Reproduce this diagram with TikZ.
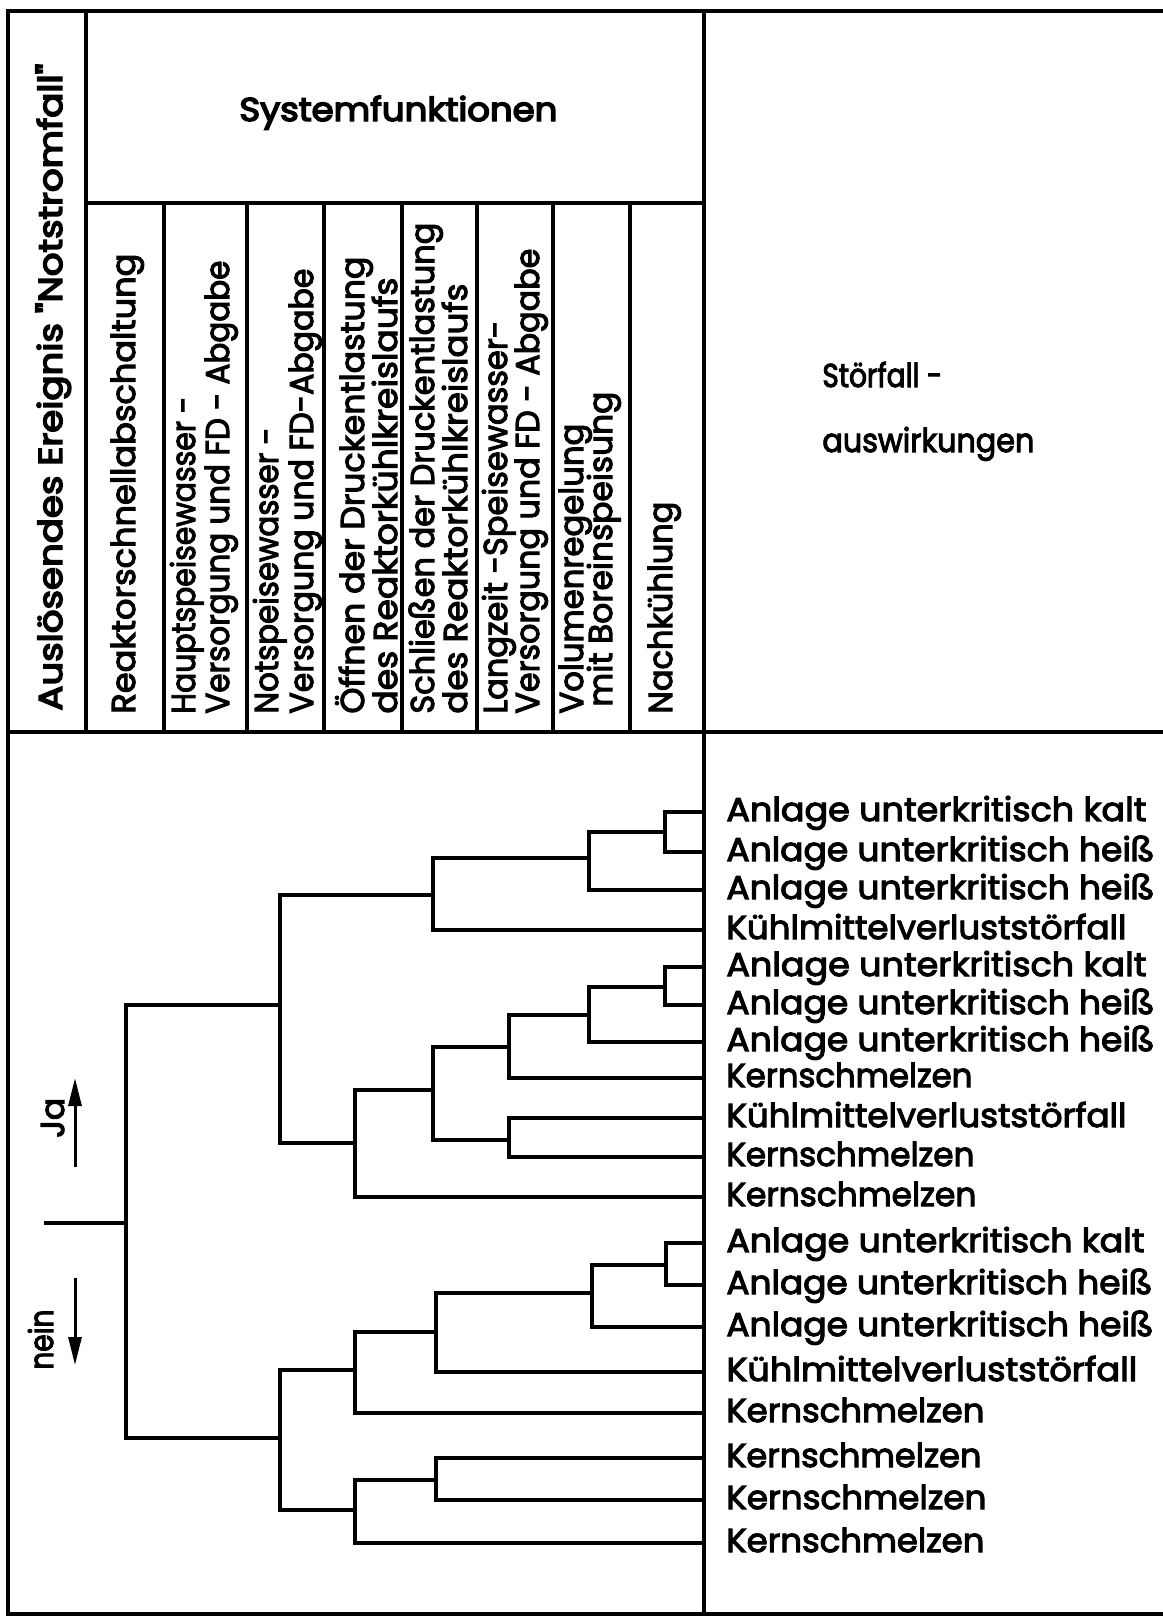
\documentclass[tikz,border=0pt]{standalone}
\usepackage{fontspec}
\usepackage{graphicx}
\setmainfont{Poppins}[FakeBold=3.2]
\newfontfamily\heavy{Poppins}[FakeBold=4.5]
\usetikzlibrary{arrows.meta}
\newcommand\labfont{\fontsize{16.5}{19}\selectfont}
% stretch or squeeze a text to a given width, keeping its height
\newcommand\fitw[2]{\resizebox{#1}{\height}{#2}}
\begin{document}
\begin{tikzpicture}[x=0.5pt,y=-0.5pt,
  frame/.style={line width=2.3pt, line cap=rect},
  grid/.style={line width=1.6pt},
  branch/.style={line width=2.2pt, line join=miter},
  arr/.style={line width=1.5pt, -{Triangle[length=14pt,width=6.5pt]}},
  leaflab/.style={anchor=base west, inner sep=0pt, font=\labfont},
  collab/.style={anchor=base west, inner sep=0pt, rotate=90, font=\labfont},
]
\useasboundingbox (0,0) rectangle (1162,1617);
\fill[white] (0,0) rectangle (1162,1617);

% ---- table frame ----
\draw[frame] (1162,11) -- (8,11) -- (8,1614) -- (1162,1614);
\draw[frame] (86,11) -- (86,732);
\draw[frame] (704,11) -- (704,1614);
\draw[frame] (8,732) -- (1162,732);
\draw[frame] (86,203) -- (704,203);
\foreach \cx in {164,247,324,402,477,553,630}
  \draw[grid] (\cx,203) -- (\cx,732);

% ---- headings ----
\node[collab, font=\labfont\heavy] (ev) at (62,711) {\fitw{323.5pt}{Auslösendes Ereignis "Notstromfall"}};
\node[anchor=base west, inner sep=0pt, font=\labfont\heavy] (sys) at (239,121) {\fitw{159pt}{Systemfunktionen}};

\node[collab] (c1)  at (135,714) {\fitw{230pt}{Reaktorschnellabschaltung}};
\node[collab] (c2a) at (195,714) {\fitw{158.5pt}{Hauptspeisewasser -}};
\node[collab] (c2b) at (229,714) {\fitw{226.5pt}{Versorgung und FD - Abgabe}};
\node[collab] (c3a) at (278,714) {\fitw{143pt}{Notspeisewasser -}};
\node[collab] (c3b) at (313,714) {\fitw{222.5pt}{Versorgung und FD-Abgabe}};
\node[collab] (c4a) at (364,714) {\fitw{228.5pt}{Öffnen der Druckentlastung}};
\node[collab] (c4b) at (397,714) {\fitw{218pt}{des Reaktorkühlkreislaufs}};
\node[collab] (c5a) at (434,714) {\fitw{245.5pt}{Schließen der Druckentlastung}};
\node[collab] (c5b) at (467,714) {\fitw{215pt}{des Reaktorkühlkreislaufs}};
\node[collab] (c6a) at (507,714) {\fitw{196.5pt}{Langzeit -Speisewasser-}};
\node[collab] (c6b) at (539,714) {\fitw{232.5pt}{Versorgung und FD - Abgabe}};
\node[collab] (c7a) at (583,714) {\fitw{145pt}{Volumenregelung}};
\node[collab] (c7b) at (612,707) {\fitw{157.5pt}{mit Boreinspeisung}};
\node[collab] (c8)  at (672,714) {\fitw{106pt}{Nachkühlung}};

\node[leaflab] (sa) at (822,387) {\fitw{60pt}{Störfall -}};
\node[leaflab] (sb) at (822,452) {\fitw{106pt}{auswirkungen}};

% ---- event tree ----
\coordinate (stub) at (44,1223);
\coordinate (R) at (126,1223);
\coordinate (A) at (280,1005);
\coordinate (A1) at (433,895);
\coordinate (A11) at (589,858);
\coordinate (A111) at (665,832);
\coordinate (A2) at (355,1143);
\coordinate (A21) at (433,1090);
\coordinate (A211) at (509,1047);
\coordinate (A2111) at (589,1015);
\coordinate (A21111) at (665,987);
\coordinate (A212) at (509,1140);
\coordinate (B) at (280,1438);
\coordinate (B1) at (355,1370);
\coordinate (B11) at (436,1332);
\coordinate (B111) at (592,1293);
\coordinate (B1111) at (666,1265);
\coordinate (B2) at (355,1510);
\coordinate (B21) at (436,1480);

\foreach \i/\y in {1/812,2/852,3/890,4/930,5/967,6/1005,7/1042,8/1078,9/1118,10/1157,
                   11/1197,12/1243,13/1285,14/1327,15/1372,16/1413,17/1458,18/1500,19/1543}
  \coordinate (L\i) at (704,\y);

\draw[branch] (stub) -- (R);
\draw[branch] (A) -| (R) |- (B);
\draw[branch] (A1) -| (A) |- (A2);
\draw[branch] (A11) -| (A1) |- (L4);
\draw[branch] (A111) -| (A11) |- (L3);
\draw[branch] (L1) -| (A111) |- (L2);
\draw[branch] (A21) -| (A2) |- (L11);
\draw[branch] (A211) -| (A21) |- (A212);
\draw[branch] (A2111) -| (A211) |- (L8);
\draw[branch] (A21111) -| (A2111) |- (L7);
\draw[branch] (L5) -| (A21111) |- (L6);
\draw[branch] (L9) -| (A212) |- (L10);
\draw[branch] (B1) -| (B) |- (B2);
\draw[branch] (B11) -| (B1) |- (L16);
\draw[branch] (B111) -| (B11) |- (L15);
\draw[branch] (B1111) -| (B111) |- (L14);
\draw[branch] (L12) -| (B1111) |- (L13);
\draw[branch] (B21) -| (B2) |- (L19);
\draw[branch] (L17) -| (B21) |- (L18);

% ---- yes / no arrows ----
\coordinate (jaS) at (75,1167);
\coordinate (jaE) at (75,1078);
\coordinate (neS) at (75,1278);
\coordinate (neE) at (75,1365);
\draw[arr] (jaS) -- (jaE);
\draw[arr] (neS) -- (neE);
\node[collab] (ja) at (64,1138) {Ja};
\node[collab] (nein) at (53,1370) {\fitw{30pt}{nein}};

% ---- outcomes ----
\newcommand\ka{Anlage unterkritisch kalt}
\newcommand\he{Anlage unterkritisch heiß}
\newcommand\kv{Kühlmittelverluststörfall}
\newcommand\ks{Kernschmelzen}
\foreach \i/\y/\w/\t in {1/821/210/\ka, 2/861/214/\he, 3/899/214/\he, 4/939/200/\kv,
    5/976/210/\ka, 6/1014/214/\he, 7/1051/214/\he, 8/1087/123/\ks, 9/1127/200/\kv,
    10/1166/124/\ks, 11/1206/125/\ks, 12/1252/209/\ka, 13/1294/213/\he, 14/1336/213.5/\he,
    15/1381/205.5/\kv, 16/1422/129/\ks, 17/1467/127.5/\ks, 18/1509/130/\ks, 19/1552/129/\ks}
  \node[leaflab] (t\i) at (726,\y) {\fitw{\w pt}{\t}};
\end{tikzpicture}
\end{document}
